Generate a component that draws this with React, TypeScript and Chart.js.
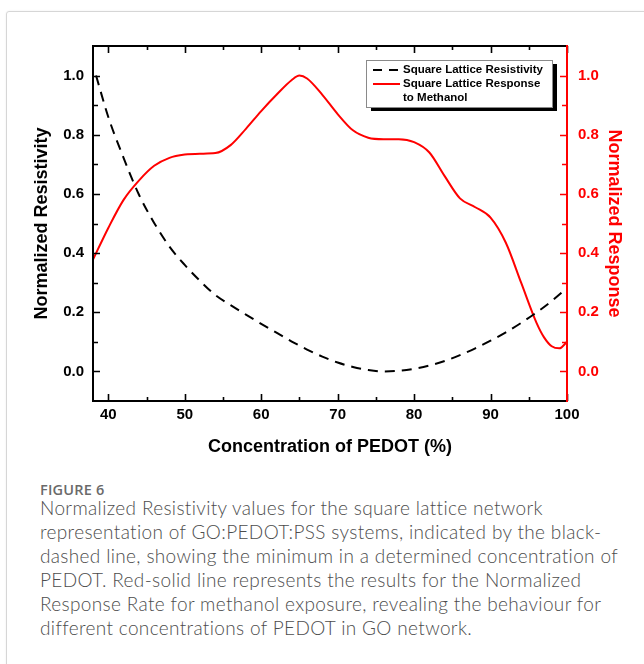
import React, { useEffect, useRef } from "react";
import { Chart, registerables } from "chart.js";

Chart.register(...registerables);

// ---- data ----
const resistivityX = [38.4, 40, 42, 44, 46, 48, 50, 52, 54, 56, 58, 60, 62, 64, 66, 68, 70, 72, 74, 76, 78, 80, 82, 84, 86, 88, 90, 92, 94, 96, 98, 100];
const resistivityY = [1.0, 0.86, 0.722, 0.598, 0.502, 0.422, 0.36, 0.306, 0.258, 0.224, 0.192, 0.161, 0.131, 0.101, 0.074, 0.05, 0.03, 0.015, 0.005, 0.0, 0.002, 0.009, 0.02, 0.035, 0.055, 0.078, 0.104, 0.132, 0.164, 0.199, 0.238, 0.282];

const responseX = [38, 40, 42, 44, 46, 48, 50, 52, 54, 56, 58, 60, 62, 64, 65, 66, 68, 70, 72, 74, 76, 78, 80, 82, 84, 86, 88, 90, 92, 94, 96, 97, 98, 99, 100];
const responseY = [0.378, 0.485, 0.58, 0.645, 0.695, 0.722, 0.733, 0.736, 0.738, 0.765, 0.82, 0.88, 0.935, 0.985, 1.0, 0.99, 0.935, 0.87, 0.815, 0.79, 0.785, 0.785, 0.775, 0.74, 0.66, 0.585, 0.555, 0.52, 0.435, 0.3, 0.165, 0.115, 0.085, 0.078, 0.1];

const xTickValues = [40, 50, 60, 70, 80, 90, 100];
const xMinorTickValues = [45, 55, 65, 75, 85, 95];
const yTickValues = [0, 0.2, 0.4, 0.6, 0.8, 1.0];
const yMinorTickValues = [0.1, 0.3, 0.5, 0.7, 0.9];

const legendLabels = ["Square Lattice Resistivity", "Square Lattice Response", "to Methanol"];

const captionTitle = "FIGURE 6";
const captionLines = [
  "Normalized Resistivity values for the square lattice network",
  "representation of GO:PEDOT:PSS systems, indicated by the black-",
  "dashed line, showing the minimum in a determined concentration of",
  "PEDOT. Red-solid line represents the results for the Normalized",
  "Response Rate for methanol exposure, revealing the behaviour for",
  "different concentrations of PEDOT in GO network.",
];

const FONT = "'Liberation Sans', Arial, Helvetica, sans-serif";
const RED = "#ff0000";

const framePlugin = {
  id: "framePlugin",
  afterDraw(chart: any) {
    const ctx = chart.ctx;
    const { left, right, top, bottom } = chart.chartArea;
    const xs = chart.scales.x;
    const yl = chart.scales.y;
    const yr = chart.scales.y1;
    ctx.save();
    ctx.lineCap = "butt";
    // ticks
    ctx.lineWidth = 1.6;
    ctx.strokeStyle = "#000";
    ctx.beginPath();
    xTickValues.forEach((v) => {
      const px = Math.round(xs.getPixelForValue(v)) + 0.5;
      ctx.moveTo(px, bottom); ctx.lineTo(px, bottom - 7);
      ctx.moveTo(px, top); ctx.lineTo(px, top + 7);
    });
    xMinorTickValues.forEach((v) => {
      const px = Math.round(xs.getPixelForValue(v)) + 0.5;
      ctx.moveTo(px, bottom); ctx.lineTo(px, bottom - 4);
      ctx.moveTo(px, top); ctx.lineTo(px, top + 4);
    });
    yTickValues.forEach((v) => {
      const py = Math.round(yl.getPixelForValue(v)) + 0.5;
      ctx.moveTo(left, py); ctx.lineTo(left + 7, py);
    });
    yMinorTickValues.forEach((v) => {
      const py = Math.round(yl.getPixelForValue(v)) + 0.5;
      ctx.moveTo(left, py); ctx.lineTo(left + 5, py);
    });
    ctx.stroke();
    ctx.strokeStyle = RED;
    ctx.beginPath();
    yTickValues.forEach((v) => {
      const py = Math.round(yr.getPixelForValue(v)) + 0.5;
      ctx.moveTo(right, py); ctx.lineTo(right - 7, py);
    });
    yMinorTickValues.forEach((v) => {
      const py = Math.round(yr.getPixelForValue(v)) + 0.5;
      ctx.moveTo(right, py); ctx.lineTo(right - 5, py);
    });
    ctx.stroke();
    // frame
    ctx.lineWidth = 2;
    ctx.strokeStyle = "#000";
    ctx.beginPath();
    ctx.moveTo(right, top);
    ctx.lineTo(left, top);
    ctx.lineTo(left, bottom);
    ctx.lineTo(right, bottom);
    ctx.stroke();
    ctx.strokeStyle = RED;
    ctx.beginPath();
    ctx.moveTo(right, top - 1);
    ctx.lineTo(right, bottom + 1);
    ctx.stroke();

    // legend box
    const bx = right - 201;
    const by = top + 14;
    const bw = 186;
    const bh = 47;
    ctx.fillStyle = "#000";
    ctx.fillRect(bx + 5, by + 4, bw, bh);
    ctx.fillStyle = "#fff";
    ctx.fillRect(bx, by, bw, bh);
    ctx.lineWidth = 1;
    ctx.strokeStyle = "#8a8a8a";
    ctx.strokeRect(bx + 0.5, by + 0.5, bw, bh);
    // samples
    ctx.lineWidth = 2;
    ctx.strokeStyle = "#000";
    ctx.setLineDash([9, 7]);
    ctx.beginPath();
    ctx.moveTo(bx + 7, by + 10);
    ctx.lineTo(bx + 33, by + 10);
    ctx.stroke();
    ctx.setLineDash([]);
    ctx.strokeStyle = RED;
    ctx.beginPath();
    ctx.moveTo(bx + 7, by + 24);
    ctx.lineTo(bx + 34, by + 24);
    ctx.stroke();
    ctx.fillStyle = "#000";
    ctx.font = `bold 11.5px ${FONT}`;
    ctx.textBaseline = "middle";
    ctx.textAlign = "left";
    legendLabels.forEach((t, i) => {
      ctx.fillText(t, bx + 37, by + 10 + i * 14);
    });
    ctx.restore();
  },
};

export default function App() {
  const canvasRef = useRef<HTMLCanvasElement | null>(null);

  useEffect(() => {
    document.body.style.margin = "0";
    const canvas = canvasRef.current;
    if (!canvas) return;
    const tickFont = { family: FONT, size: 15, weight: "bold" as const };
    const titleFont = { family: FONT, size: 18, weight: "bold" as const };
    const chart = new Chart(canvas, {
      type: "line",
      data: {
        datasets: [
          {
            label: "Square Lattice Resistivity",
            data: resistivityX.map((x, i) => ({ x, y: resistivityY[i] })),
            borderColor: "#000",
            borderWidth: 2,
            borderDash: [10, 7],
            pointRadius: 0,
            fill: false,
            cubicInterpolationMode: "monotone",
            yAxisID: "y",
          },
          {
            label: "Square Lattice Response to Methanol",
            data: responseX.map((x, i) => ({ x, y: responseY[i] })),
            borderColor: RED,
            borderWidth: 2,
            pointRadius: 0,
            fill: false,
            cubicInterpolationMode: "monotone",
            yAxisID: "y1",
          },
        ],
      },
      options: {
        responsive: false,
        animation: false,
        devicePixelRatio: 1,
        layout: { padding: { top: 46, left: 0, right: 0, bottom: 0 } },
        plugins: { legend: { display: false }, tooltip: { enabled: false } },
        scales: {
          x: {
            type: "linear",
            position: "bottom",
            min: 38,
            max: 100,
            grid: { display: false, drawTicks: false },
            border: { display: false },
            afterBuildTicks: (s: any) => { s.ticks = xTickValues.map((v) => ({ value: v })); },
            afterFit: (s: any) => { s.height = 69; },
            ticks: { font: tickFont, color: "#000", padding: 5, maxRotation: 0, autoSkip: false, callback: (v: any) => String(v) },
            title: { display: true, text: "Concentration of PEDOT (%)", font: titleFont, color: "#000", padding: { top: 0, bottom: 12 } },
          },
          y: {
            type: "linear",
            position: "left",
            min: -0.1,
            max: 1.1,
            grid: { display: false, drawTicks: false },
            border: { display: false },
            afterBuildTicks: (s: any) => { s.ticks = yTickValues.map((v) => ({ value: v })); },
            afterFit: (s: any) => { s.width = 93; },
            ticks: { font: tickFont, color: "#000", padding: 9, autoSkip: false, callback: (v: any) => Number(v).toFixed(1) },
            title: { display: true, text: "Normalized Resistivity", font: titleFont, color: "#000", padding: { top: 31, bottom: 0 } },
          },
          y1: {
            type: "linear",
            position: "right",
            min: -0.1,
            max: 1.1,
            grid: { display: false, drawTicks: false },
            border: { display: false },
            afterBuildTicks: (s: any) => { s.ticks = yTickValues.map((v) => ({ value: v })); },
            afterFit: (s: any) => { s.width = 77; },
            ticks: { font: tickFont, color: RED, padding: 11, autoSkip: false, callback: (v: any) => Number(v).toFixed(1) },
            title: { display: true, text: "Normalized Response", font: titleFont, color: RED, padding: { top: 19, bottom: 0 } },
          },
        },
      } as any,
      plugins: [framePlugin],
    });
    return () => chart.destroy();
  }, []);

  return (
    <div style={{ position: "fixed", left: 0, top: 0, width: 644, height: 664, overflow: "hidden", background: "#fff" }}>
      <div
        style={{
          position: "absolute",
          left: 6,
          top: 11,
          width: 720,
          height: 720,
          border: "1px solid #d6d6d6",
          borderRadius: 3,
          boxShadow: "0 0 2px rgba(0,0,0,0.08)",
          boxSizing: "border-box",
        }}
      />
      <canvas ref={canvasRef} width={644} height={470} style={{ position: "absolute", left: 0, top: 0, width: 644, height: 470 }} />
      <div
        style={{
          position: "absolute",
          left: 40,
          top: 481,
          fontFamily: "'Open Sans', Lato, sans-serif",
          fontSize: 14.5,
          fontWeight: 600,
          color: "#6a6a6a",
          lineHeight: "17px",
          letterSpacing: 0.2,
        }}
      >
        {captionTitle}
      </div>
      <div
        style={{
          position: "absolute",
          left: 40,
          top: 496,
          fontFamily: "Lato, 'Open Sans', sans-serif",
          fontWeight: 300,
          fontSize: 19,
          letterSpacing: 0.35,
          color: "#4d4d4d",
          lineHeight: "24px",
          whiteSpace: "nowrap",
        }}
      >
        {captionLines.map((l, i) => (
          <div key={i}>{l}</div>
        ))}
      </div>
    </div>
  );
}
